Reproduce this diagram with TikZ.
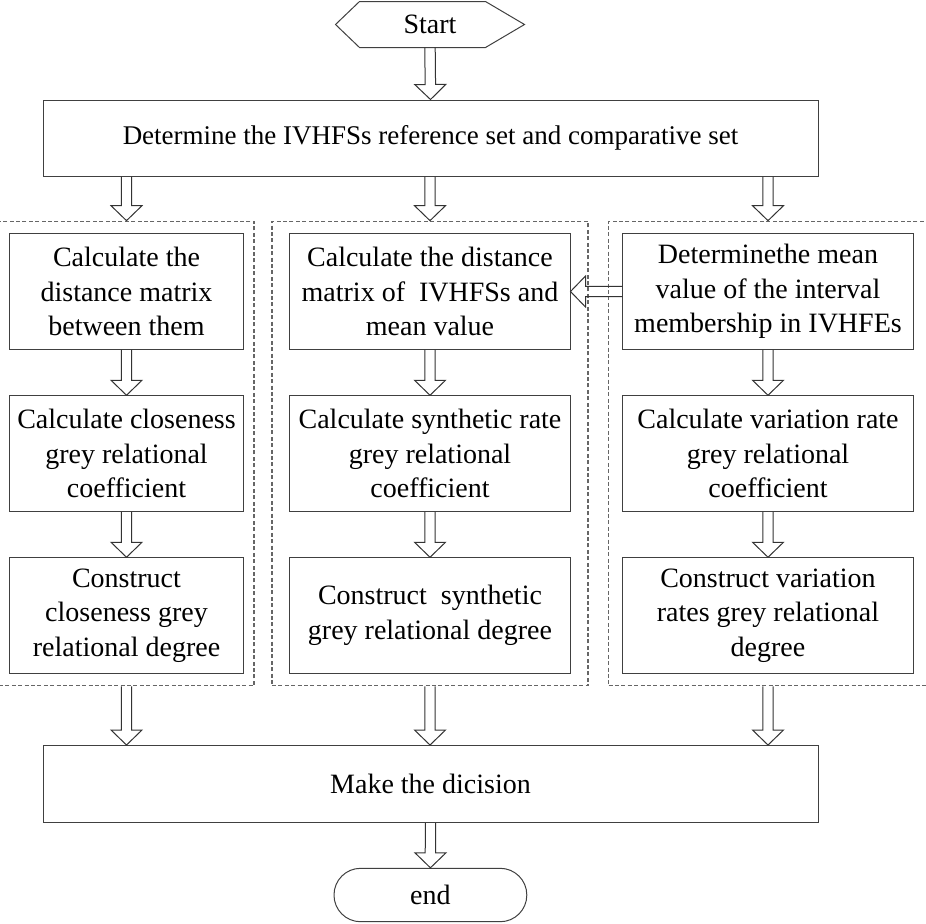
\documentclass[tikz,border=0pt]{standalone}
\usepackage{fontspec}
\setmainfont{Liberation Serif}
\usetikzlibrary{matrix,calc,fit}

\newcommand{\hollowarrow}[2]{%
  \coordinate (ha) at (#1);
  \coordinate (hb) at (#2);
  \coordinate (hc) at ($(hb)!7.5pt!(ha)$);
  \draw[hollow] ($(ha)!2.6pt!90:(hb)$) -- ($(hc)!2.6pt!90:(hb)$) -- ($(hc)!7.75pt!90:(hb)$) -- (hb)
    -- ($(hc)!7.75pt!-90:(hb)$) -- ($(hc)!2.6pt!-90:(hb)$) -- ($(ha)!2.6pt!-90:(hb)$);}

\begin{document}
\begin{tikzpicture}[x=0.5pt,y=-0.5pt,
        box/.style={draw=black!75, line width=0.5pt, align=center, font=\fontsize{14}{17.25}\selectfont},
        group/.style={draw=black!60, line width=0.6pt, dash pattern=on 2pt off 1.2pt, inner ysep=6pt},
        hollow/.style={draw=black!80, line width=0.5pt, line join=miter},
        steps/.style={nodes={box, minimum height=57.75pt}, column sep=23pt, row sep=22.75pt,
        column 1/.style={nodes={minimum width=116.5pt}},
        column 2/.style={nodes={minimum width=140pt}},
        column 3/.style={nodes={minimum width=145pt}}}]
    \useasboundingbox (0,0) rectangle (926,923);
    \node[box, draw=none, minimum width=94pt, minimum height=22.5pt] (start) at (430,24.5) {Start};
    \draw[draw=black!75, line width=0.5pt] (start.west) -- ($(start.north west)+(24,0)$) -- ($(start.north east)+(-39,0)$)
        -- (start.east) -- ($(start.south east)+(-39,0)$) -- ($(start.south west)+(24,0)$) -- cycle;
    \node[box, minimum width=387.5pt, minimum height=38pt, font=\fontsize{13.5}{17.25}\selectfont] (top) at (430.5,138) {Determine the IVHFSs reference set and comparative set};
    \matrix[steps] (steps) at (461.5,453.5) {
        \node (dist1) {Calculate the\\distance matrix\\between them}; &
        \node (dist2) {Calculate the distance\\matrix of~ IVHFSs and\\mean value}; &[3pt]
        \node (dist3) {Determinethe mean\\value of the interval\\membership in IVHFEs}; \\
        \node (coef1) {Calculate closeness\\grey relational\\coefficient}; &
        \node (coef2) {Calculate synthetic rate\\grey relational\\coefficient}; &
        \node (coef3) {Calculate variation rate\\grey relational\\coefficient}; \\
        \node (deg1) {Construct\\closeness grey\\relational degree}; &
        \node (deg2) {Construct~ synthetic\\grey relational degree}; &
        \node (deg3) {Construct variation\\rates grey relational\\degree}; \\
    };
    \node[group, fit=(dist1)(deg1), inner xsep=5.25pt] (closeness) {};
    \node[group, fit=(dist2)(deg2), inner xsep=8.75pt] (synthetic) {};
    \node[group, fit=(dist3)(deg3), inner xsep=7pt] (variation) {};
    \node[box, minimum width=387.5pt, minimum height=38.5pt] (dec) at (430.5,784) {Make the dicision};
    \node[box, rounded corners=13.3pt, minimum width=96.4pt, minimum height=26.7pt] (finish) at (430.4,895) {end};
    \hollowarrow{start.south}{top.north}
    \foreach \c/\g in {1/closeness,2/synthetic,3/variation}{
        \hollowarrow{dist\c |- top.south}{dist\c |- \g.north}
        \hollowarrow{dist\c.south}{coef\c.north}
        \hollowarrow{coef\c.south}{deg\c.north}
        \hollowarrow{deg\c |- \g.south}{deg\c |- dec.north}
    }
    \hollowarrow{dist3.west}{dist2.east}
    \hollowarrow{dec.south}{finish.north}
\end{tikzpicture}
\end{document}
